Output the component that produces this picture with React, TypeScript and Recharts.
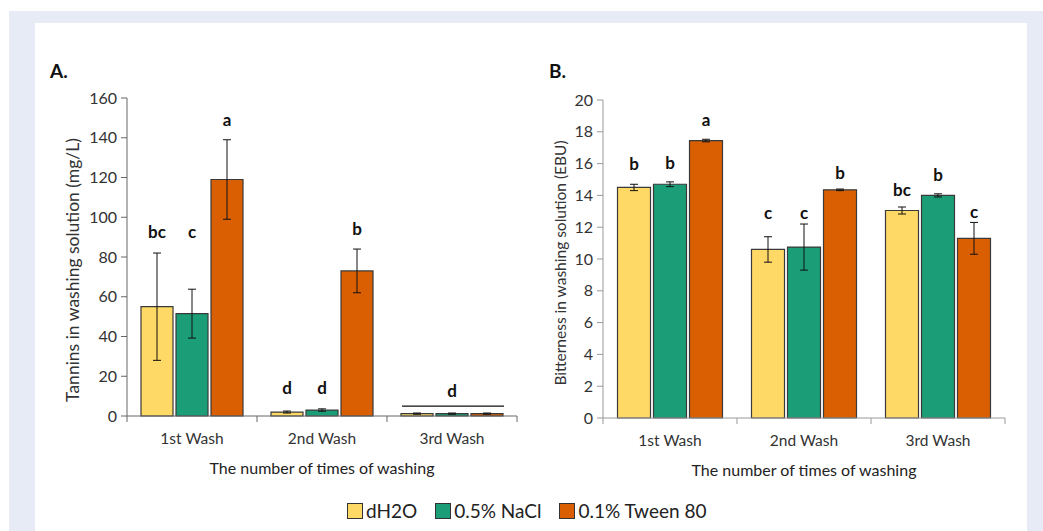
import React from 'react';
import { BarChart, Bar, XAxis, YAxis, ErrorBar, LabelList, Label } from 'recharts';

const FONT = 'Lato, "Open Sans", sans-serif';

const washes = ['1st Wash', '2nd Wash', '3rd Wash'];
const seriesNames = ['dH2O', '0.5% NaCl', '0.1% Tween 80'];
const seriesColors = ['#FFD966', '#1B9E77', '#D95F02'];

// A. tannins (mg/L)
const tanninWater = [55, 2.0, 1.2];
const tanninWaterErr = [27, 0.5, 0.3];
const tanninNacl = [51.5, 3.0, 1.2];
const tanninNaclErr = [12.3, 0.6, 0.3];
const tanninTween = [119, 73, 1.2];
const tanninTweenErr = [20, 11, 0.3];
const tanninLetters = [['bc', 'd', ''], ['c', 'd', 'd'], ['a', 'b', '']];
const tanninLetterAt = [[92.6, 14.1, 0], [92.6, 14.1, 12.6], [149.4, 94.1, 0]];
const tanninSpan = [0, 0, 5]; // line grouping all three bars
const tanninTicks = [0, 20, 40, 60, 80, 100, 120, 140, 160];

// B. bitterness (EBU)
const bitterWater = [14.5, 10.6, 13.05];
const bitterWaterErr = [0.2, 0.8, 0.22];
const bitterNacl = [14.7, 10.75, 14.0];
const bitterNaclErr = [0.15, 1.45, 0.1];
const bitterTween = [17.45, 14.35, 11.3];
const bitterTweenErr = [0.08, 0.05, 1.0];
const bitterLetters = [['b', 'c', 'bc'], ['b', 'c', 'b'], ['a', 'b', 'c']];
const bitterLetterAt = [[16.0, 12.95, 14.35], [16.1, 12.95, 15.3], [18.8, 15.43, 12.96]];
const bitterSpan = [0, 0, 0];
const bitterTicks = [0, 2, 4, 6, 8, 10, 12, 14, 16, 18, 20];

const toRows = (vals: number[][], errs: number[][]) =>
  washes.map((w, i) => ({
    wash: w,
    s0: vals[0][i], e0: errs[0][i],
    s1: vals[1][i], e1: errs[1][i],
    s2: vals[2][i], e2: errs[2][i],
  }));

const tanninData = toRows([tanninWater, tanninNacl, tanninTween], [tanninWaterErr, tanninNaclErr, tanninTweenErr]);
const bitterData = toRows([bitterWater, bitterNacl, bitterTween], [bitterWaterErr, bitterNaclErr, bitterTweenErr]);

const makeTick = (band: number, axisColor: string) => (props: any) => {
  const { x, y, payload, index } = props;
  const half = band / 2;
  return (
    <g>
      <line x1={x - half} x2={x - half} y1={y} y2={y + 6} stroke={axisColor} />
      {index === washes.length - 1 && (
        <line x1={x + half} x2={x + half} y1={y} y2={y + 6} stroke={axisColor} />
      )}
      <text x={x} y={y + 22} textAnchor="middle" dominantBaseline="central" fill="#333" fontSize={15.5} fontFamily={FONT}>
        {payload.value}
      </text>
    </g>
  );
};

const makeLetter = (s: number, letters: string[][], at: number[][], span: number[], gap: number) => (props: any) => {
  const vb = props.viewBox ?? props;
  const { x, y, width, height } = vb;
  const i = props.index;
  const value = Number(props.value);
  if (i == null || !value) return null;
  const base = y + height;
  const k = height / value;
  const cx = x + width / 2;
  const letter = letters[s][i];
  const out: React.ReactNode[] = [];
  if (letter) {
    out.push(
      <text key="t" x={cx} y={base - at[s][i] * k} textAnchor="middle" dominantBaseline="central"
        fill="#111" fontSize={17} fontWeight={700} fontFamily={FONT}>
        {letter}
      </text>
    );
  }
  if (s === 1 && span[i]) {
    const ly = base - span[i] * k;
    out.push(
      <line key="l" x1={x - width - gap + 1} x2={x + 2 * width + gap + 1} y1={ly} y2={ly} stroke="#111" strokeWidth={1.2} />
    );
  }
  return <g>{out}</g>;
};

const yTitle = (text: string, dx: number, shift: number, size: number) => (props: any) => {
  const vb = props.viewBox;
  const cx = vb.x + dx;
  const cy = vb.y + vb.height / 2 + shift;
  return (
    <text transform={`translate(${cx},${cy}) rotate(-90)`} textAnchor="middle" dominantBaseline="central"
      fill="#333" fontSize={size} fontFamily={FONT}>
      {text}
    </text>
  );
};

interface PanelProps {
  data: any[];
  ticks: number[];
  yLabel: string;
  letters: string[][];
  letterAt: number[][];
  span: number[];
  width: number;
  margin: { top: number; right: number; left: number; bottom: number };
  yAxisWidth: number;
  band: number;
  catGap: number;
  axisColor: string;
  titleDx: number;
  titleShift: number;
  titleSize: number;
}

function Panel(p: PanelProps) {
  const barGap = 3;
  return (
    <BarChart width={p.width} height={480} data={p.data} margin={p.margin} barCategoryGap={p.catGap} barGap={barGap}>
      <XAxis dataKey="wash" height={60} interval={0} tickSize={0} tickMargin={0} tickLine={false}
        axisLine={{ stroke: p.axisColor }} tick={makeTick(p.band, p.axisColor)}>
        <Label value="The number of times of washing" position="insideBottom" offset={2}
          fill="#222" fontSize={16} fontFamily={FONT} />
      </XAxis>
      <YAxis width={p.yAxisWidth} domain={[0, p.ticks[p.ticks.length - 1]]} ticks={p.ticks} interval={0}
        tickSize={6} tickMargin={4} axisLine={{ stroke: p.axisColor }} tickLine={{ stroke: p.axisColor }}
        tick={{ fill: '#333', fontSize: 16, fontFamily: FONT }}>
        <Label content={yTitle(p.yLabel, p.titleDx, p.titleShift, p.titleSize)} />
      </YAxis>
      {[0, 1, 2].map((s) => (
        <Bar key={s} dataKey={`s${s}`} name={seriesNames[s]} fill={seriesColors[s]} stroke="#3a3a3a"
          strokeWidth={1.2} isAnimationActive={false}>
          <ErrorBar dataKey={`e${s}`} width={4} stroke="#111" strokeWidth={1} direction="y" isAnimationActive={false} />
          <LabelList dataKey={`s${s}`} content={makeLetter(s, p.letters, p.letterAt, p.span, barGap)} />
        </Bar>
      ))}
    </BarChart>
  );
}

export default function App() {
  return (
    <div style={{ position: 'absolute', left: 0, top: 0, width: 1043, height: 531, background: '#fff', overflow: 'hidden', fontFamily: FONT }}>
      <div style={{ position: 'absolute', left: 9, top: 11, width: 1034, height: 520, background: '#E7EBF5' }} />
      <div style={{ position: 'absolute', left: 35, top: 23, width: 992, height: 508, background: '#fff' }} />

      <div style={{ position: 'absolute', left: 50, top: 59, fontSize: 19, fontWeight: 700, color: '#111' }}>A.</div>
      <div style={{ position: 'absolute', left: 549, top: 59, fontSize: 19, fontWeight: 700, color: '#111' }}>B.</div>

      <div style={{ position: 'absolute', left: 0, top: 0 }}>
        <Panel data={tanninData} ticks={tanninTicks} yLabel="Tannins in washing solution (mg/L)"
          letters={tanninLetters} letterAt={tanninLetterAt} span={tanninSpan}
          width={520} margin={{ top: 98, right: 3, left: 67, bottom: 4 }} yAxisWidth={60}
          band={130} catGap={14} axisColor="#666" titleDx={5} titleShift={13} titleSize={17.5} />
      </div>
      <div style={{ position: 'absolute', left: 520, top: 0 }}>
        <Panel data={bitterData} ticks={bitterTicks} yLabel="Bitterness in washing solution (EBU)"
          letters={bitterLetters} letterAt={bitterLetterAt} span={bitterSpan}
          width={520} margin={{ top: 100, right: 35, left: 33, bottom: 2 }} yAxisWidth={50}
          band={134} catGap={14.5} axisColor="#999" titleDx={7} titleShift={4} titleSize={15.5} />
      </div>

      <div style={{ position: 'absolute', left: 347, top: 499, display: 'flex', alignItems: 'center', fontSize: 19, color: '#222' }}>
        {seriesNames.map((n, i) => (
          <div key={n} style={{ display: 'flex', alignItems: 'center', marginRight: 18 }}>
            <span style={{ display: 'inline-block', width: 14, height: 14, background: seriesColors[i], border: '1.2px solid #333', marginRight: 3 }} />
            <span>{n}</span>
          </div>
        ))}
      </div>
    </div>
  );
}
